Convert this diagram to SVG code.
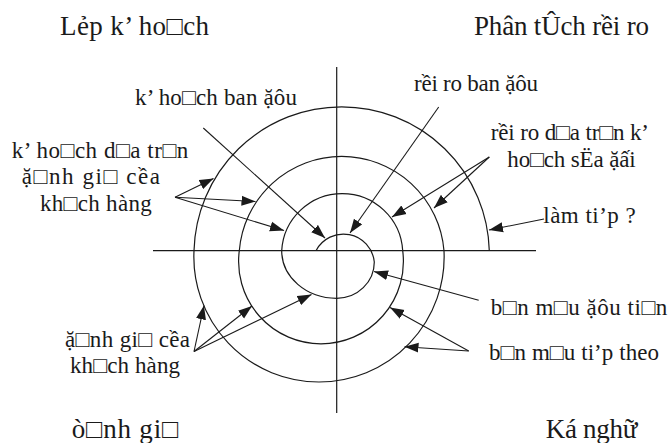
<svg xmlns="http://www.w3.org/2000/svg" width="668" height="443" viewBox="0 0 668 443">
<style>
text{font-family:"Liberation Serif","Times New Roman",serif;fill:#1a1a1a}
.t{font-size:27px}
.l{font-size:23px}
.ln{stroke:#1a1a1a;stroke-width:1.2;fill:none}
.ar{stroke:#1a1a1a;stroke-width:1.1;fill:none;marker-end:url(#ah)}
</style>
<defs>
<marker id="ah" markerWidth="15" markerHeight="11" refX="14" refY="5.5" orient="auto" markerUnits="userSpaceOnUse">
<path d="M0,0.5 L14,5.5 L0,10.5 z" fill="#1a1a1a"/>
</marker>
</defs>
<rect width="668" height="443" fill="#fff"/>
<g id="axes">
<line class="ln" x1="336.7" y1="67" x2="336.7" y2="413"/>
<line class="ln" x1="153" y1="250.7" x2="536" y2="250.7"/>
</g>
<g id="spiral">
<path class="ln" d="M316,250.7 A31,31 0 0 1 374.3,262 A37.6,36.3 0 0 1 336.7,298.3 A55,47.6 0 0 1 281.7,250.7 A60.6,60.6 0 0 1 402.7,250.7 A82.4,82.4 0 1 1 239.3,250.7 A102.7,102.7 0 0 1 444,250.7 A125.15,125.15 0 1 1 194,250.7 A147.7,147.7 0 0 1 489.3,250.7"/>
</g>
<g id="connectors">
<line class="ar" x1="203.3" y1="128" x2="325" y2="238"/>
<line class="ar" x1="438.7" y1="107" x2="350" y2="233"/>
<line class="ar" x1="175" y1="197.3" x2="213.5" y2="178.5"/>
<line class="ar" x1="175" y1="197.3" x2="255.5" y2="201.5"/>
<line class="ar" x1="175" y1="197.3" x2="284" y2="230.5"/>
<line class="ar" x1="489.3" y1="157" x2="392" y2="217"/>
<line class="ar" x1="489.3" y1="157" x2="434" y2="208"/>
<line class="ar" x1="544" y1="219" x2="489" y2="230"/>
<line class="ar" x1="478.7" y1="300.3" x2="374" y2="271.5"/>
<line class="ar" x1="468.7" y1="351" x2="390" y2="307.5"/>
<line class="ar" x1="468.7" y1="351" x2="404.5" y2="346.7"/>
<line class="ar" x1="194" y1="351.5" x2="204" y2="305.5"/>
<line class="ar" x1="194" y1="351.5" x2="252" y2="306"/>
<line class="ar" x1="194" y1="351.5" x2="311.5" y2="294.5"/>
</g>
<g id="title-plan"><text class="t" x="60" y="35" textLength="149" lengthAdjust="spacing">Lẻp k’ ho□ch</text></g>
<g id="title-risk"><text class="t" x="474" y="35" textLength="175" lengthAdjust="spacing">Phân tÛch rềi ro</text></g>
<g id="title-eval"><text class="t" x="71.7" y="438" textLength="106.6" lengthAdjust="spacing">ò□nh gi□</text></g>
<g id="title-eng"><text class="t" x="545.7" y="438" textLength="91.6" lengthAdjust="spacing">Ká nghữ</text></g>
<g id="label-initial-plan"><text class="l" x="135" y="105" textLength="162" lengthAdjust="spacing">k’ ho□ch ban ặôu</text></g>
<g id="label-initial-risk"><text class="l" x="414" y="90.5" textLength="124" lengthAdjust="spacing">rềi ro ban ặôu</text></g>
<g id="label-plan-customer">
<text class="l" x="11.7" y="158.3" textLength="176.6" lengthAdjust="spacing">k’ ho□ch d□a tr□n</text>
<text class="l" x="21.7" y="184.3" textLength="138.3" lengthAdjust="spacing">ặ□nh gi□ cềa</text>
<text class="l" x="40" y="210.7" textLength="111.7" lengthAdjust="spacing">kh□ch hàng</text>
</g>
<g id="label-risk-revised">
<text class="l" x="490.7" y="140" textLength="158.3" lengthAdjust="spacing">rềi ro d□a tr□n k’</text>
<text class="l" x="507.3" y="166.7" textLength="128.4" lengthAdjust="spacing">ho□ch sËa ặấi</text>
</g>
<g id="label-continue"><text class="l" x="543.3" y="223.3" textLength="92.4" lengthAdjust="spacing">làm ti’p ?</text></g>
<g id="label-first-proto"><text class="l" x="490.7" y="315" textLength="176.6" lengthAdjust="spacing">b□n m□u ặôu ti□n</text></g>
<g id="label-next-proto"><text class="l" x="489" y="360" textLength="170" lengthAdjust="spacing">b□n m□u ti’p theo</text></g>
<g id="label-customer-eval">
<text class="l" x="65" y="346.7" textLength="125" lengthAdjust="spacing">ặ□nh gi□ cềa</text>
<text class="l" x="70" y="373.3" textLength="110" lengthAdjust="spacing">kh□ch hàng</text>
</g>
</svg>
